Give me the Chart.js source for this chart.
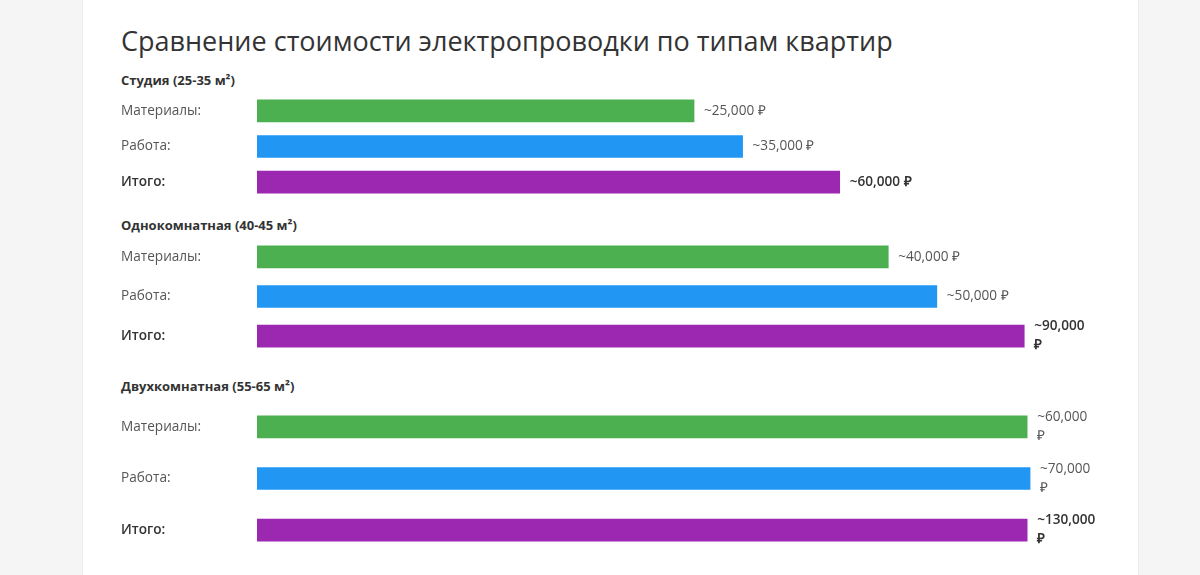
<!DOCTYPE html>
<html lang="ru">
<head>
<meta charset="utf-8">
<script src="https://cdn.jsdelivr.net/npm/chart.js@4.4.1/dist/chart.umd.min.js"></script>
<style>
  html, body { margin: 0; padding: 0; }
  body { width: 1200px; height: 575px; overflow: hidden; background: #f5f5f5; font-family: "Open Sans", sans-serif; position: relative; }
  .card { position: absolute; left: 82px; top: 0; width: 1055px; height: 575px; background: #fff; border-left: 1px solid #ececec; border-right: 1px solid #ececec; }
  h2 { position: absolute; left: 38px; top: 24px; margin: 0; font-size: 27px; font-weight: 400; color: #333; line-height: 34px; white-space: nowrap; }
  .head { position: absolute; left: 38px; margin: 0; font-size: 13px; font-weight: 700; color: #333; line-height: 18px; }
  canvas { position: absolute; left: 38px; }
</style>
</head>
<body>
<div class="card">
  <h2>Сравнение стоимости электропроводки по типам квартир</h2>
  <div class="head" style="top:71px">Студия (25-35 м²)</div>
  <canvas id="g1" width="979" height="123" style="top:84.5px"></canvas>
  <div class="head" style="top:216px">Однокомнатная (40-45 м²)</div>
  <canvas id="g2" width="979" height="135" style="top:228.5px"></canvas>
  <div class="head" style="top:377px">Двухкомнатная (55-65 м²)</div>
  <canvas id="g3" width="979" height="171" style="top:392.5px"></canvas>
</div>
<script>
// rows in every group
var rowLabels = ["Материалы:", "Работа:", "Итого:"];

// approximate cost, rubles
var studioCost = [25000, 35000, 60000];
var oneRoomCost = [40000, 50000, 90000];
var twoRoomCost = [60000, 70000, 130000];

// bar length as % of the row
var studioShare = [45, 50, 60];
var oneRoomShare = [65, 70, 79];
var twoRoomShare = [79.3, 79.6, 79.3];

var barColors = ["#4CAF50", "#2196F3", "#9C27B0"];

var valueLabels = {
    id: "valueLabels",
    afterDatasetsDraw: function (chart) {
        var ctx = chart.ctx;
        var costs = chart.options.plugins.valueLabels.costs;
        var limit = chart.width - 10;
        chart.getDatasetMeta(0).data.forEach(function (bar, i) {
            var total = i === 2;
            var text = "~" + costs[i].toLocaleString("en-US") + " ₽";
            ctx.save();
            ctx.font = (total ? "600 " : "") + "13.6px 'Open Sans'";
            ctx.fillStyle = total ? "#333" : "#555";
            ctx.textAlign = "left";
            ctx.textBaseline = "middle";
            var x = bar.x + 10;
            if (x + ctx.measureText(text).width > limit) {
                var cut = text.lastIndexOf(" ");
                ctx.fillText(text.slice(0, cut), x, bar.y - 9.5);
                ctx.fillText(text.slice(cut + 1), x, bar.y + 9.5);
            } else {
                ctx.fillText(text, x, bar.y);
            }
            ctx.restore();
        });
    }
};

function makeGroup(id, shares, costs) {
    new Chart(document.getElementById(id), {
        type: "bar",
        data: {
            labels: rowLabels,
            datasets: [{
                data: shares,
                backgroundColor: barColors,
                barThickness: 22,
                borderWidth: 0
            }]
        },
        options: {
            indexAxis: "y",
            responsive: false,
            animation: false,
            layout: {padding: 0},
            scales: {
                x: {display: false, min: 0, max: 86.8},
                y: {
                    grid: {display: false},
                    border: {display: false},
                    afterFit: function (scale) { scale.width = 136; },
                    ticks: {
                        crossAlign: "far",
                        padding: 0,
                        color: function (c) { return c.index === 2 ? "#333" : "#555"; },
                        font: function (c) {
                            return {family: "'Open Sans'", size: 13.6, weight: c.index === 2 ? "600" : "normal"};
                        }
                    }
                }
            },
            plugins: {
                legend: {display: false},
                tooltip: {enabled: false},
                valueLabels: {costs: costs}
            }
        },
        plugins: [valueLabels]
    });
}

makeGroup("g1", studioShare, studioCost);
makeGroup("g2", oneRoomShare, oneRoomCost);
makeGroup("g3", twoRoomShare, twoRoomCost);
</script>
</body>
</html>
